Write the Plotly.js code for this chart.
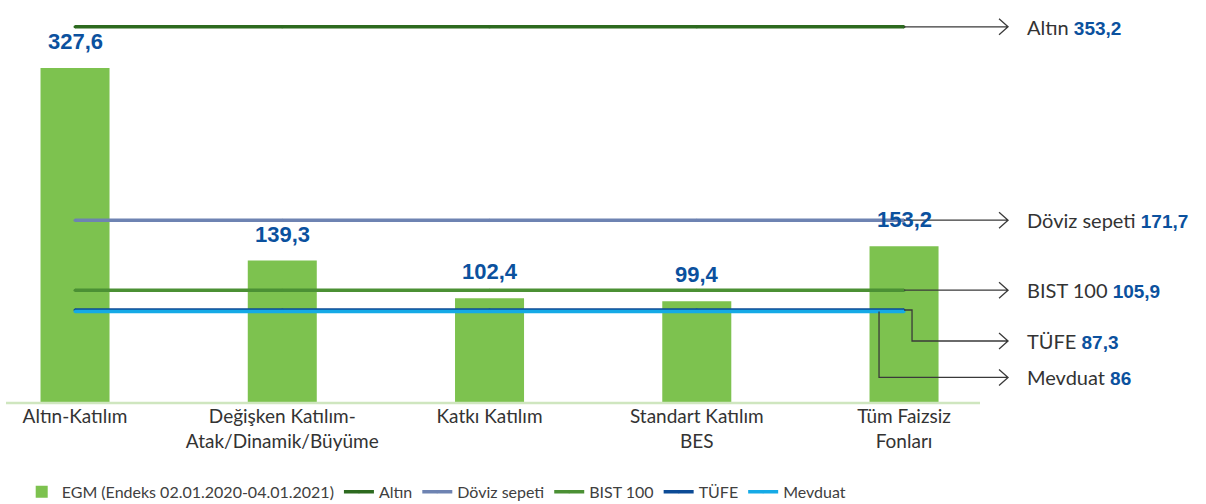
<!DOCTYPE html>
<html>
<head>
<meta charset="utf-8">
<script src="https://cdn.plot.ly/plotly-3.0.1.min.js"></script>
<style>body{margin:0;background:#fff}</style>
</head>
<body>
<div id="chart" style="width:1206px;height:504px"></div>
<script>
// fund categories and their index values (EGM)
var categories = ["Altın-Katılım", "Değişken Katılım-<br>Atak/Dinamik/Büyüme", "Katkı Katılım", "Standart Katılım<br>BES", "Tüm Faizsiz<br>Fonları"];
var egmValues = [327.6, 139.3, 102.4, 99.4, 153.2];

// benchmark series
var benchNames = ["Altın", "Döviz sepeti", "BIST 100", "TÜFE", "Mevduat"];
var benchValues = [353.2, 171.7, 105.9, 87.3, 86];
var benchColors = ["#2d6a1f", "#6e83b2", "#4b9034", "#0c4b96", "#15aae6"];

// how the label connectors are routed (pixels)
var connStart = [0, 0, 0, 0, -25];
var connElbow = [0, 0, 0, 8, -25];
var connDrop = [0, 0, 0, 31, 66];

var xs = categories.map((c, i) => i);
var fmt = v => String(v).replace(".", ",");

var traces = [{
  x: xs,
  y: egmValues,
  type: "bar",
  name: "EGM (Endeks 02.01.2020-04.01.2021)",
  marker: {color: "#7dc24f"},
  width: 0.333,
  hoverinfo: "y"
}];

benchNames.forEach(function(n, i) {
  traces.push({
    x: xs,
    y: xs.map(() => benchValues[i]),
    type: "scatter",
    mode: "lines+markers",
    name: n,
    yaxis: "y2",
    line: {color: benchColors[i], width: 3.5},
    marker: {color: benchColors[i], size: 3}
  });
});

var annotations = egmValues.map((v, i) => ({
  x: i, y: v, xref: "x", yref: "y",
  text: "<b>" + fmt(v) + "</b>",
  showarrow: false, yanchor: "bottom", yshift: 12,
  font: {family: "Liberation Sans, Arial", size: 22, color: "#0b519e"}
}));

var shapes = [{
  type: "line", xref: "paper", yref: "paper",
  x0: 6 / 1206, x1: 980 / 1206, y0: 0, y1: 0,
  line: {color: "#cfe6bf", width: 2.5}
}];

benchNames.forEach(function(n, i) {
  var d = connDrop[i];
  var p = "M" + connStart[i] + ",0 L" + connElbow[i] + ",0 L" + connElbow[i] + "," + (-d) +
          " L104," + (-d) + " M95," + (8 - d) + " L104," + (-d) + " L95," + (-8 - d);
  shapes.push({
    type: "path", xref: "x", yref: "y2",
    xsizemode: "pixel", ysizemode: "pixel",
    xanchor: 4, yanchor: benchValues[i],
    path: p,
    line: {color: "#3a3a3a", width: 1.3}
  });
  annotations.push({
    x: 4, y: benchValues[i], xref: "x", yref: "y2",
    xshift: 121, yshift: -d, xanchor: "left",
    text: n + " <b><span style='color:#0b519e;font-family:Liberation Sans;font-size:19px'>" + fmt(benchValues[i]) + "</span></b>",
    showarrow: false,
    font: {family: "Lato, sans-serif", size: 20, color: "#333"}
  });
});

var layout = {
  width: 1206,
  height: 504,
  margin: {l: 0, r: 0, t: 0, b: 101, autoexpand: false},
  paper_bgcolor: "#fff",
  plot_bgcolor: "#fff",
  showlegend: true,
  font: {family: "Lato, sans-serif", color: "#333"},
  xaxis: {
    range: [-0.362, 5.457],
    tickvals: xs,
    ticktext: categories,
    showgrid: false,
    zeroline: false,
    showline: false,
    ticks: "",
    automargin: false,
    tickfont: {size: 19, color: "#333"}
  },
  yaxis: {range: [0, 394], visible: false, fixedrange: true},
  yaxis2: {range: [0, 378.4], overlaying: "y", visible: false},
  legend: {
    orientation: "h",
    x: 0.018, xanchor: "left",
    y: -0.178, yanchor: "top",
    font: {size: 16, color: "#404040"},
    traceorder: "normal"
  },
  annotations: annotations,
  shapes: shapes
};

Plotly.newPlot("chart", traces, layout, {displayModeBar: false});
</script>
</body>
</html>
